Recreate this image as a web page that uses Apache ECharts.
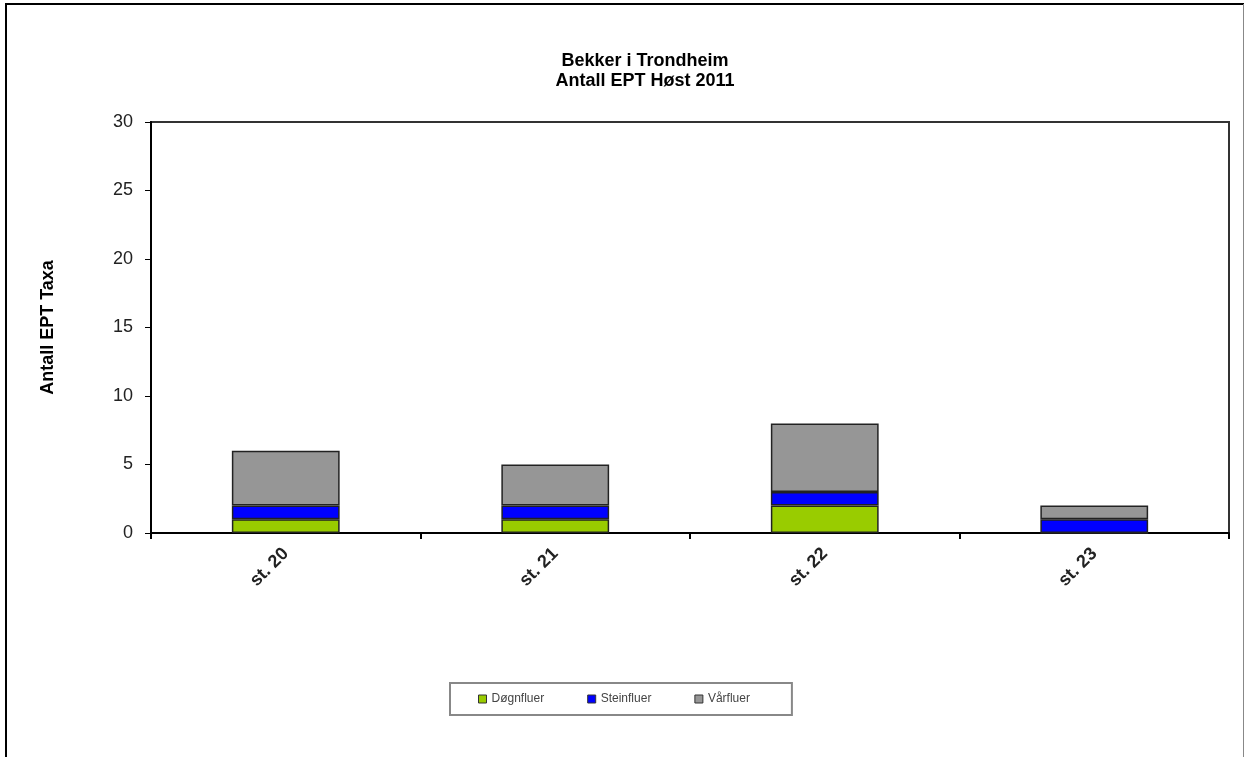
<!DOCTYPE html>
<html><head><meta charset="utf-8">
<script src="https://cdn.jsdelivr.net/npm/echarts@6/dist/echarts.min.js"></script>
<style>html,body{margin:0;padding:0;background:#fff}#c{width:1245px;height:757px}</style>
</head><body><div id="c"></div>
<script>
const categories = ['st. 20', 'st. 21', 'st. 22', 'st. 23'];
const dognfluer = [1, 1, 2, 0];
const steinfluer = [1, 1, 1, 1];
const varfluer = [4, 3, 5, 1];
const seriesNames = ['Døgnfluer', 'Steinfluer', 'Vårfluer'];
const colors = ['#99CC00', '#0000FF', '#969696'];

const FF = 'Liberation Sans, Arial, sans-serif';
const chart = echarts.init(document.getElementById('c'), null, {renderer: 'canvas'});
const mk = (name, data, color) => ({
  name, type: 'bar', stack: 'total', data, barWidth: '40%',
  itemStyle: {color, borderColor: '#222', borderWidth: 1.5},
  emphasis: {disabled: true}
});
chart.setOption({
  animation: false,
  textStyle: {fontFamily: FF},
  title: {
    text: 'Bekker i Trondheim\nAntall EPT Høst 2011',
    left: 640, top: 46, textAlign: 'center',
    textStyle: {fontSize: 18, fontWeight: 'bold', color: '#000', lineHeight: 20, fontFamily: FF}
  },
  graphic: [
    {type: 'line', shape: {x1: 6, y1: 4, x2: 6, y2: 800}, style: {stroke: '#000', lineWidth: 2}},
    {type: 'line', shape: {x1: 5, y1: 4, x2: 1244, y2: 4}, style: {stroke: '#000', lineWidth: 2}},
    {type: 'line', shape: {x1: 1243.5, y1: 4, x2: 1243.5, y2: 800}, style: {stroke: '#888', lineWidth: 1}}
  ],
  legend: {
    data: seriesNames,
    left: 450, top: 683,
    padding: [10, 42, 10, 28],
    itemGap: 43, itemWidth: 8, itemHeight: 8,
    borderColor: '#888', borderWidth: 2,
    icon: 'rect',
    itemStyle: {borderColor: '#333', borderWidth: 1},
    textStyle: {fontSize: 12, color: '#444'}
  },
  grid: {left: 151, top: 122, width: 1078, height: 411, show: true, borderColor: '#333', borderWidth: 2, containLabel: false},
  xAxis: {
    type: 'category', data: categories,
    axisLine: {lineStyle: {color: '#000', width: 2}},
    axisTick: {show: true, alignWithLabel: false, length: 6, lineStyle: {color: '#000', width: 2}},
    axisLabel: {rotate: 45, fontSize: 18, fontWeight: 'bold', color: '#222', margin: 18}
  },
  yAxis: {
    type: 'value', min: 0, max: 30, interval: 5,
    name: 'Antall EPT Taxa', nameLocation: 'middle', nameGap: 94, nameRotate: 90,
    nameTextStyle: {fontSize: 18, fontWeight: 'bold', color: '#000'},
    axisLine: {show: true, lineStyle: {color: '#000', width: 2}},
    axisTick: {show: true, length: 6, lineStyle: {color: '#000', width: 1}},
    splitLine: {show: false},
    axisLabel: {fontSize: 18, color: '#222', margin: 18}
  },
  series: [
    mk(seriesNames[0], dognfluer, colors[0]),
    mk(seriesNames[1], steinfluer, colors[1]),
    mk(seriesNames[2], varfluer, colors[2])
  ]
});
</script></body></html>
